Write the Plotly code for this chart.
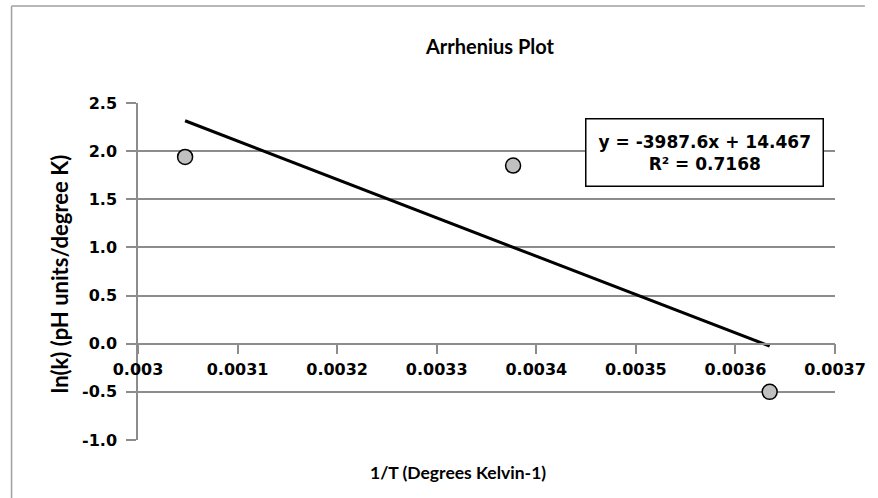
import plotly.graph_objects as go

# Data
inv_T = [0.0030473, 0.0033767, 0.0036344]
ln_k = [1.94, 1.85, -0.50]
slope = -3987.6
intercept = 14.467
r_squared = 0.7168
y_ticks = [-1.0, -0.5, 0.0, 0.5, 1.0, 1.5, 2.0, 2.5]
x_ticks = [0.003, 0.0031, 0.0032, 0.0033, 0.0034, 0.0035, 0.0036, 0.0037]

trend_x = [min(inv_T), max(inv_T)]
trend_y = [slope * x + intercept for x in trend_x]

GRID = "#8c8c8c"
TICKFONT = dict(family="DejaVu Sans", size=16, color="black", weight="bold")
TITLEFONT = "Lato"

# plot area in pixels: left 138, right 838, top 103, bottom 440
PL, PR, PT, PB = 138, 838, 103, 440
PW, PH = PR - PL, PB - PT


def px(x):
    return (x - PL) / PW


def py(y):
    return (PB - y) / PH


fig = go.Figure()
fig.add_trace(go.Scatter(x=trend_x, y=trend_y, mode="lines",
                         line=dict(color="black", width=3), showlegend=False,
                         hoverinfo="skip"))
fig.add_trace(go.Scatter(x=inv_T, y=ln_k, mode="markers",
                         marker=dict(size=15, color="#c0c0c0",
                                     line=dict(color="black", width=1.5)),
                         showlegend=False))

fig.update_layout(
    width=878, height=498,
    margin=dict(l=PL, r=878 - PR, t=PT, b=498 - PB),
    paper_bgcolor="white", plot_bgcolor="white",
    title=dict(text="<b>Arrhenius Plot</b>", x=490 / 878, xref="container",
               xanchor="center", y=1 - 47 / 498, yref="container", yanchor="middle",
               font=dict(family=TITLEFONT, size=20, color="black")),
    xaxis=dict(range=[0.003, 0.0037], tickvals=x_ticks,
               ticktext=[str(v) for v in x_ticks],
               showgrid=False, zeroline=False,
               anchor="free", position=1 / 3.5,
               showline=True, linecolor=GRID, linewidth=1.5,
               ticks="outside", ticklen=10, tickwidth=1.5, tickcolor=GRID,
               tickfont=TICKFONT, ticklabelstandoff=1),
    yaxis=dict(range=[-1.0, 2.5], tickvals=y_ticks,
               ticktext=[f"{v:.1f}" for v in y_ticks],
               showgrid=True, gridcolor=GRID, gridwidth=1.5, zeroline=False,
               showline=True, linecolor=GRID, linewidth=1.5,
               ticks="outside", ticklen=10, tickwidth=1.5, tickcolor=GRID,
               tickfont=TICKFONT, ticklabelstandoff=6),
    annotations=[
        dict(text="<b>ln(k) (pH units/degree K)</b>", xref="paper", yref="paper",
             x=px(59), y=py(274), xanchor="center", yanchor="middle", textangle=-90,
             showarrow=False, font=dict(family=TITLEFONT, size=22, color="black")),
        dict(text="<b>1/T (Degrees Kelvin-1)</b>", xref="paper", yref="paper",
             x=px(459), y=py(472), xanchor="center", yanchor="middle", showarrow=False,
             font=dict(family=TITLEFONT, size=17.5, color="black")),
        dict(text=f"<b>y = {slope}x + {intercept}<br>R² = {r_squared}</b>",
             xref="paper", yref="paper", x=px(707), y=py(152),
             xanchor="center", yanchor="middle", showarrow=False, align="center",
             font=dict(family="DejaVu Sans", size=17, color="black"),
             bgcolor="white", bordercolor="black", borderwidth=1.5, borderpad=12),
    ],
    shapes=[
        dict(type="line", xref="paper", yref="paper", x0=px(11), x1=px(868),
             y0=py(6), y1=py(6), line=dict(color="#a0a0a0", width=1.5)),
        dict(type="line", xref="paper", yref="paper", x0=px(11), x1=px(11),
             y0=py(6), y1=py(510), line=dict(color="#a0a0a0", width=1.5)),
    ],
)

fig.write_html("out.html", config={"displayModeBar": False},
               post_script="document.body.style.margin='0px';")
